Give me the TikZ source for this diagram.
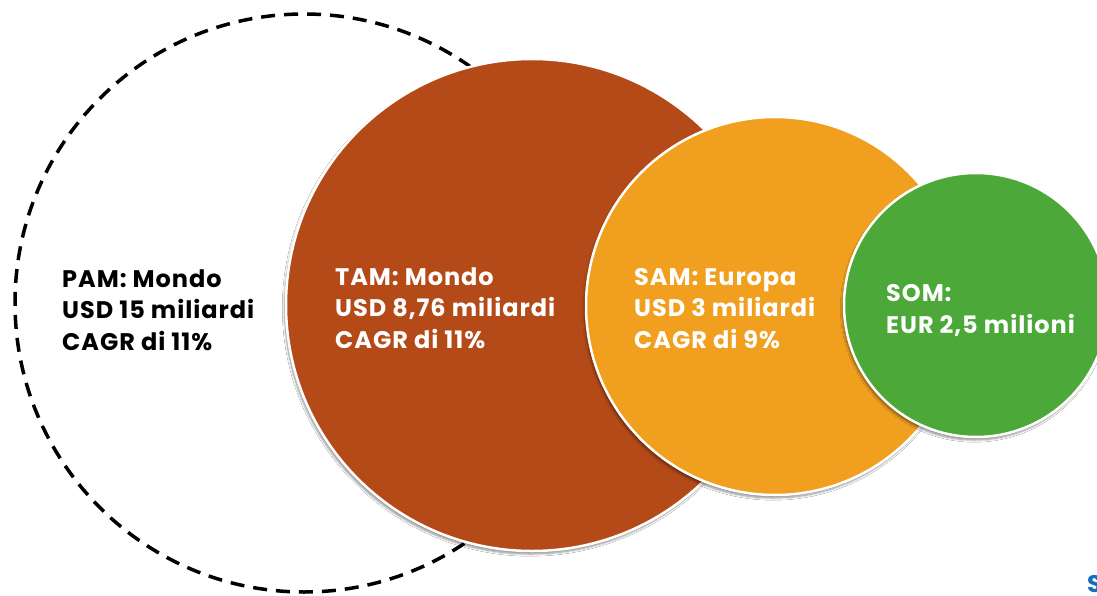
\documentclass[tikz,border=0pt]{standalone}
\usepackage{fontspec}
\setmainfont{Poppins}[LetterSpace=4]
\usetikzlibrary{shadows.blur}
\definecolor{tambrown}{RGB}{181,74,25}
\definecolor{samorange}{RGB}{240,160,30}
\definecolor{somgreen}{RGB}{76,168,56}
\definecolor{logoblue}{RGB}{20,110,190}
\begin{document}
\begin{tikzpicture}[x=1pt,y=-1pt,
  disc/.style={circle, draw=white, line width=2.5pt, inner sep=0pt,
    blur shadow={shadow xshift=-1.5pt, shadow yshift=-3pt, shadow blur steps=6, shadow opacity=45}},
  lbl/.style={anchor=base west, align=left, inner sep=0pt,
    font=\bfseries\fontsize{24}{31.5}\selectfont}]
\useasboundingbox (0,0) rectangle (1097,596);
\clip (0,0) rectangle (1097,596);
\fill[white] (0,0) rectangle (1097,596);
% PAM dashed circle
\node[circle, draw=black, line width=3.5pt, dash pattern=on 14pt off 9pt,
  minimum size=578pt, inner sep=0pt] (pam) at (304,303) {};
% TAM, SAM, SOM discs
\node[disc, fill=tambrown, minimum size=492pt] (tam) at (532,305) {};
\node[disc, fill=samorange, minimum size=378pt] (sam) at (775,306) {};
\node[disc, fill=somgreen, minimum size=264pt] (som) at (976,305) {};
% labels (anchor = baseline of last line)
\node[lbl, text=black] (pamtxt) at (62,350) {PAM: Mondo\\USD 15 miliardi\\CAGR di 11\%};
\node[lbl, text=white] (tamtxt) at (335,348) {TAM: Mondo\\USD 8,76 miliardi\\CAGR di 11\%};
\node[lbl, text=white] (samtxt) at (634,348) {SAM: Europa\\USD 3 miliardi\\CAGR di 9\%};
\node[lbl, text=white] (somtxt) at (886,333) {SOM:\\EUR 2,5 milioni};
\node[anchor=base west, inner sep=0pt, text=logoblue,
  font=\bfseries\fontsize{24}{28}\selectfont] (logo) at (1087,592) {S};
\end{tikzpicture}
\end{document}
